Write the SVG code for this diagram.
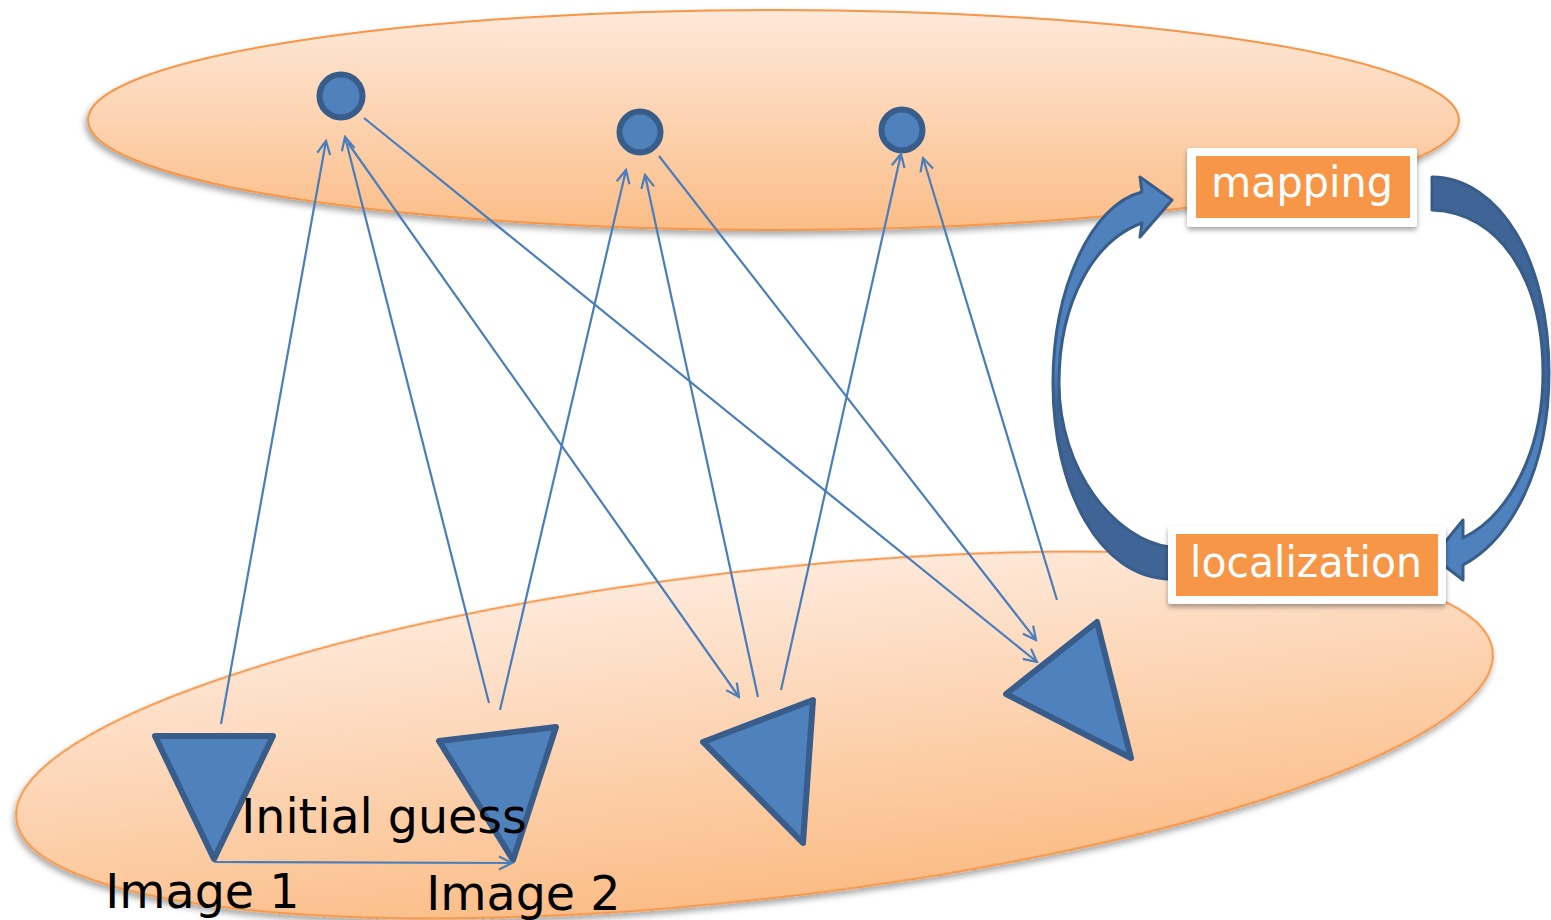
<svg xmlns="http://www.w3.org/2000/svg" width="1551" height="920" viewBox="0 0 1551 920">
<defs>
<style>
.ell{stroke:#f79646;stroke-width:2;}
.node{fill:#4f81bd;stroke:#385d8a;stroke-width:6;stroke-linejoin:round;}
.conn{stroke:#4a7ebb;stroke-width:2.2;fill:none;marker-end:url(#open);}
.lbl{font-family:"DejaVu Sans","Verdana",sans-serif;font-size:47.5px;fill:#000;}
.box{fill:#f79646;}
.boxbg{fill:#fff;}
.btxt{font-family:"DejaVu Sans","Verdana",sans-serif;font-size:42px;fill:#fff;text-anchor:middle;}
.carrow{stroke:#385d8a;stroke-width:3;stroke-linejoin:round;}
</style>
<linearGradient id="gEll" x1="0" y1="0" x2="0" y2="1">
<stop offset="0" stop-color="#fee9da"/>
<stop offset="1" stop-color="#fbbd87"/>
</linearGradient>
<linearGradient id="gLeft" x1="0" y1="0" x2="0" y2="1">
<stop offset="0" stop-color="#4f81bd"/>
<stop offset="0.48" stop-color="#4f81bd"/>
<stop offset="0.56" stop-color="#3e6595"/>
<stop offset="1" stop-color="#3e6595"/>
</linearGradient>
<linearGradient id="gRight" x1="0" y1="0" x2="0" y2="1">
<stop offset="0" stop-color="#3e6595"/>
<stop offset="0.55" stop-color="#3e6595"/>
<stop offset="0.65" stop-color="#4f81bd"/>
<stop offset="1" stop-color="#4f81bd"/>
</linearGradient>
<filter id="sh" x="-10%" y="-20%" width="120%" height="150%">
<feDropShadow dx="-2" dy="4" stdDeviation="3" flood-color="#000" flood-opacity="0.35"/>
</filter>
<filter id="shb" x="-10%" y="-20%" width="120%" height="150%">
<feDropShadow dx="0" dy="3" stdDeviation="2.5" flood-color="#000" flood-opacity="0.35"/>
</filter>
<marker id="open" viewBox="-15 -8 17 16" refX="0" refY="0" markerWidth="17" markerHeight="16" markerUnits="userSpaceOnUse" orient="auto">
<path d="M -13,-6.5 L 0,0 L -13,6.5" fill="none" stroke="#4a7ebb" stroke-width="2.2"/>
</marker>
</defs>

<g id="map-plane">
<ellipse class="ell" cx="773.5" cy="120" rx="685.5" ry="110" fill="url(#gEll)" filter="url(#sh)"/>
</g>
<g id="image-plane">
<ellipse class="ell" cx="754.5" cy="735" rx="743" ry="164" transform="rotate(-6.5 754.5 735)" fill="url(#gEll)" filter="url(#sh)"/>
</g>

<g id="landmark1"><circle class="node" cx="341" cy="96" r="21.5"/></g>
<g id="landmark2"><circle class="node" cx="640" cy="132" r="20.5"/></g>
<g id="landmark3"><circle class="node" cx="902" cy="130" r="20.5"/></g>

<g id="camera1"><polygon class="node" points="155,736 273,736 214,859"/></g>
<g id="camera2"><polygon class="node" points="439,741 556,727 513,860"/></g>
<g id="camera3"><polygon class="node" points="703,742 813,700 803,843"/></g>
<g id="camera4"><polygon class="node" points="1006,694 1097,622 1131,758"/></g>

<g id="connectors">
<line class="conn" x1="221" y1="724" x2="326" y2="141"/>
<line class="conn" x1="489" y1="703" x2="345" y2="137"/>
<line class="conn" x1="348" y1="143" x2="739" y2="697"/>
<line class="conn" x1="364" y1="118" x2="1037" y2="662"/>
<line class="conn" x1="500" y1="710" x2="626" y2="170"/>
<line class="conn" x1="758" y1="697" x2="645" y2="175"/>
<line class="conn" x1="659" y1="156" x2="1036" y2="640"/>
<line class="conn" x1="781" y1="690" x2="901" y2="154"/>
<line class="conn" x1="1057" y1="600" x2="923" y2="158"/>
<line class="conn" x1="214" y1="862" x2="512" y2="863"/>
</g>

<g id="loop-arrow-left">
<path class="carrow" fill="url(#gLeft)" d="M 1170,547 C 1115,540 1059,470 1059,383 C 1059,300 1095,240 1142,223 L 1140,237 L 1172,200 L 1140,177 L 1142,192 C 1090,205 1053,290 1053,383 C 1053,490 1100,578 1170,579 Z"/>
</g>
<g id="loop-arrow-right">
<path class="carrow" fill="url(#gRight)" d="M 1432,177 C 1500,178 1549,260 1549,373 C 1549,470 1510,540 1463,565 L 1463,580 L 1433,557 L 1463,520 L 1463,538 C 1510,515 1543,450 1543,373 C 1543,280 1500,212 1432,210 Z"/>
</g>

<g id="mapping">
<rect class="boxbg" x="1187" y="148" width="230" height="79" rx="3" filter="url(#shb)"/>
<rect class="box" x="1196" y="156" width="214" height="62"/>
<text class="btxt" x="1302" y="197" textLength="182" lengthAdjust="spacingAndGlyphs">mapping</text>
</g>
<g id="localization">
<rect class="boxbg" x="1168" y="526" width="278" height="78" rx="3" filter="url(#shb)"/>
<rect class="box" x="1176" y="534" width="262" height="62"/>
<text class="btxt" x="1306" y="577" textLength="232" lengthAdjust="spacingAndGlyphs">localization</text>
</g>

<g id="labels">
<text class="lbl" x="241.3" y="833">Initial guess</text>
<text class="lbl" x="105.3" y="908">Image 1</text>
<text class="lbl" x="426.3" y="910">Image 2</text>
</g>
</svg>
